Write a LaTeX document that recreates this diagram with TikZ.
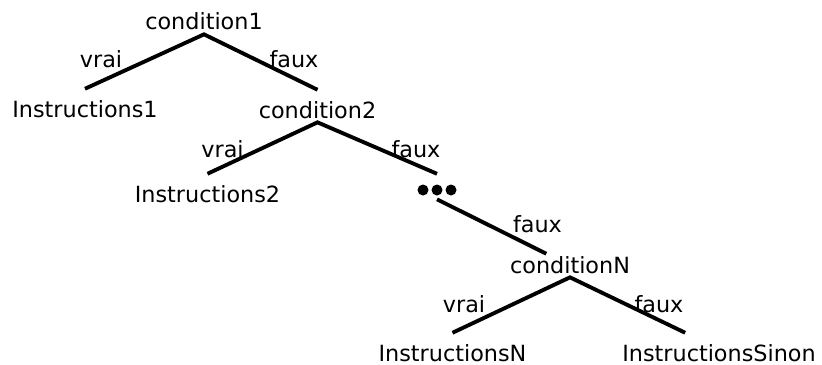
\documentclass[tikz,border=0pt]{standalone}
\usepackage{fontspec}
\setmainfont{DejaVu Sans}
\tikzset{edge/.style={line width=2.2pt, color=black}}
\tikzset{word/.style={anchor=base, inner xsep=0pt, inner ysep=2.27pt, text height=13.6pt, text depth=0pt, font=\fontsize{12.7}{15}\selectfont}}
\tikzset{lbl/.style={anchor=base, inner sep=0pt, font=\fontsize{12.7}{15}\selectfont}}

\begin{document}
\begin{tikzpicture}[x=0.02cm, y=-0.02cm]
    \useasboundingbox (0,0) rectangle (822,365);

    \node[word] (C1) at (204, 30) {condition1};
    \node[word] (I1) at (85, 117) {Instructions1};
    \node[word] (C2) at (317.5, 118) {condition2};
    \node[word] (I2) at (207.5, 202) {Instructions2};
    \node[word, text height=9.6pt] (Dots) at (437, 195) {};
    \node[word, text height=8.5pt] (CN) at (570, 273) {conditionN};
    \node[word] (IN) at (452.5, 361) {InstructionsN};
    \node[word] (IS) at (719, 361) {InstructionsSinon};

    \foreach \dx in {-14, 0, 14}
        \fill (Dots.base) ++(\dx, -5) circle (5.5);

    \draw [edge] (I1.north) -- (C1.south) -- (C2.north);
    \draw [edge] (I2.north) -- (C2.south) -- (Dots.north);
    \draw [edge] (Dots.south) -- (CN);
    \draw [edge] (IN.north) -- (CN.south) -- (IS);

    \node[lbl] (Va) at (101, 67) {vrai};
    \node[lbl] (Fa) at (294, 67) {faux};
    \node[lbl] (Vb) at (222.5, 157) {vrai};
    \node[lbl] (Fb) at (416, 157) {faux};
    \node[lbl] (Fc) at (537.5, 232) {faux};
    \node[lbl] (Vn) at (464, 312) {vrai};
    \node[lbl] (Fn) at (659, 312) {faux};

\end{tikzpicture}
\end{document}
